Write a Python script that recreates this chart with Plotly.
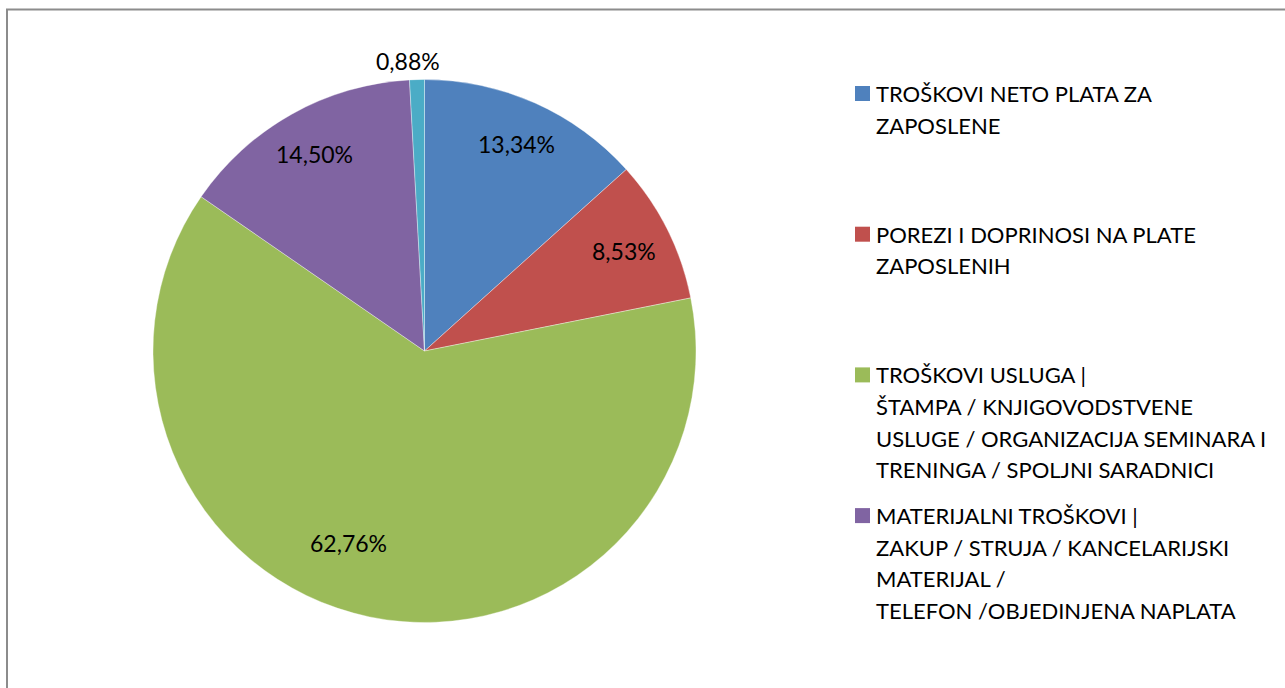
import math
import plotly.graph_objects as go

# ---- data ----
categories = [
    "TROŠKOVI NETO PLATA ZA ZAPOSLENE",
    "POREZI I DOPRINOSI NA PLATE ZAPOSLENIH",
    "TROŠKOVI USLUGA | ŠTAMPA / KNJIGOVODSTVENE USLUGE / ORGANIZACIJA SEMINARA I TRENINGA / SPOLJNI SARADNICI",
    "MATERIJALNI TROŠKOVI | ZAKUP / STRUJA / KANCELARIJSKI MATERIJAL / TELEFON /OBJEDINJENA NAPLATA",
    "OSTALO",
]
values = [13.34, 8.53, 62.76, 14.50, 0.88]
legend_lines = [
    ["TROŠKOVI NETO PLATA ZA", "ZAPOSLENE"],
    ["POREZI I DOPRINOSI NA PLATE", "ZAPOSLENIH"],
    ["TROŠKOVI USLUGA |", "ŠTAMPA / KNJIGOVODSTVENE",
     "USLUGE / ORGANIZACIJA SEMINARA I", "TRENINGA / SPOLJNI SARADNICI"],
    ["MATERIJALNI TROŠKOVI |", "ZAKUP / STRUJA / KANCELARIJSKI",
     "MATERIJAL /", "TELEFON /OBJEDINJENA NAPLATA"],
]
colors = ["#4F81BD", "#C0504D", "#9BBB59", "#8064A2", "#4BACC6"]

# ---- layout constants (pixels) ----
W, H = 1285, 688
CX, CY, R = 424.5, 351.0, 271.5
FONT = "Lato"
FS_PIE = 23
FS_LEG = 22

def px(x):
    return x / W

def py(y):
    return 1 - y / H

fig = go.Figure()
fig.add_trace(go.Pie(
    labels=categories,
    values=values,
    sort=False,
    direction="clockwise",
    rotation=0,
    marker=dict(colors=colors, line=dict(width=0.6, color="rgba(255,255,255,0.6)")),
    textinfo="none",
    hoverinfo="label+percent",
    showlegend=False,
    domain=dict(x=[px(CX - R), px(CX + R)], y=[py(CY + R), py(CY - R)]),
))

annotations = []
# slice value labels placed along each slice's mid angle
total = sum(values)
label_pos = {0: (0.83, 0.0, 0, -1), 1: (0.82, 0.0, 0, 0), 2: (0.76, 10.0, 0, 0),
             3: (0.83, 0.0, 0, 0), 4: (1.07, 0.0, -8, 0)}
cum = 0.0
for i, v in enumerate(values):
    mid = (cum + v / 2) / total * 360.0
    cum += v
    rf, dang, dx, dy = label_pos[i]
    a = math.radians(mid + dang)
    x = CX + rf * R * math.sin(a) + dx
    y = CY - rf * R * math.cos(a) + dy
    annotations.append(dict(
        x=px(x), y=py(y), xref="paper", yref="paper",
        text=f"{v:.2f}".replace(".", ",") + "%",
        showarrow=False, xanchor="center", yanchor="middle",
        font=dict(family=FONT, size=FS_PIE, color="#000000"),
    ))

# manual legend
shapes = []
LEG_X_SQ, LEG_X_TXT = 855, 874
LEG_Y0, LEG_STEP, LINE_STEP = 93.5, 140.7, 31.6
SQ = 15
for i, lines in enumerate(legend_lines):
    y0 = LEG_Y0 + i * LEG_STEP
    shapes.append(dict(type="rect", xref="paper", yref="paper",
                       x0=px(LEG_X_SQ), x1=px(LEG_X_SQ + SQ),
                       y0=py(y0 + SQ / 2), y1=py(y0 - SQ / 2),
                       fillcolor=colors[i], line=dict(width=0)))
    for j, t in enumerate(lines):
        annotations.append(dict(
            x=px(LEG_X_TXT), y=py(y0 + j * LINE_STEP), xref="paper", yref="paper",
            text=t, showarrow=False, xanchor="left", yanchor="middle",
            font=dict(family=FONT, size=FS_LEG, color="#000000"),
        ))

# outer chart border
shapes.append(dict(type="rect", xref="paper", yref="paper",
                   x0=px(7), x1=px(W + 20), y0=py(H + 20), y1=py(9.5),
                   line=dict(color="#8C8C8C", width=2), fillcolor="rgba(0,0,0,0)"))

fig.update_layout(
    width=W, height=H,
    margin=dict(l=0, r=0, t=0, b=0),
    paper_bgcolor="white", plot_bgcolor="white",
    annotations=annotations,
    shapes=shapes,
    showlegend=False,
)

fig.write_html("out.html", config={"displayModeBar": False})

# remove the browser's default page margin so the figure sits at (0, 0)
with open("out.html", "r", encoding="utf-8") as f:
    html = f.read()
html = html.replace("<head>", "<head><style>html,body{margin:0;padding:0;overflow:hidden;}</style>", 1)
with open("out.html", "w", encoding="utf-8") as f:
    f.write(html)
